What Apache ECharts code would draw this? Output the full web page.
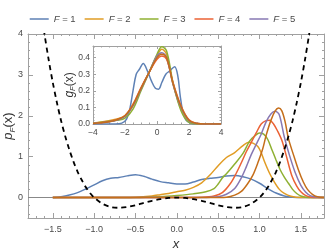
<!DOCTYPE html>
<html><head><meta charset="utf-8">
<script src="https://cdn.jsdelivr.net/npm/echarts@6/dist/echarts.min.js"></script>
<style>html,body{margin:0;padding:0;background:#fff}#c{width:325px;height:252px}</style>
</head><body><div id="c"></div>
<script>
// ---------- data ----------
const seriesNames = ['F = 1','F = 2','F = 3','F = 4','F = 5','F = 6'];
const legendNames = ['F = 1','F = 2','F = 3','F = 4','F = 5'];
const xTicksMain = ['\u22121.5','\u22121.0','\u22120.5','0.0','0.5','1.0','1.5'];
const yTicksMain = ['0','1','2','3','4'];
const xTicksInset = ['\u22124','\u22122','0','2','4'];
const yTicksInset = ['0.0','0.1','0.2','0.3','0.4'];

// main panel p_F(x)
const pF1 = [[-1.5,0],[-1.4,0.02],[-1.3,0.06],[-1.2,0.12],[-1.1,0.21],[-1.0,0.31],[-0.9,0.41],[-0.8,0.47],[-0.7,0.49],[-0.6,0.53],[-0.5,0.56],[-0.4,0.52],[-0.3,0.45],[-0.2,0.39],[-0.1,0.36],[0,0.33],[0.1,0.33],[0.2,0.38],[0.3,0.44],[0.4,0.47],[0.5,0.49],[0.6,0.53],[0.7,0.54],[0.8,0.51],[0.9,0.45],[1.0,0.35],[1.1,0.22],[1.2,0.11],[1.3,0.04],[1.4,0.01],[1.5,0],[1.78,0]];
const pF2 = [[-1.5,0],[-0.8,0],[-0.5,0.01],[-0.3,0.04],[-0.2,0.07],[-0.1,0.10],[0,0.14],[0.1,0.18],[0.2,0.25],[0.3,0.36],[0.4,0.55],[0.5,0.78],[0.6,0.98],[0.7,1.10],[0.8,1.27],[0.87,1.35],[0.92,1.33],[0.98,1.25],[1.02,1.10],[1.06,0.88],[1.12,0.60],[1.18,0.38],[1.24,0.20],[1.30,0.10],[1.38,0.03],[1.5,0],[1.78,0]];
const pF3 = [[-1.5,0],[-0.5,0],[-0.2,0.02],[0,0.05],[0.2,0.09],[0.35,0.14],[0.45,0.22],[0.5,0.33],[0.55,0.48],[0.6,0.58],[0.7,0.82],[0.8,1.08],[0.88,1.38],[0.95,1.52],[1.0,1.58],[1.05,1.55],[1.1,1.42],[1.15,1.17],[1.2,0.92],[1.25,0.68],[1.3,0.50],[1.35,0.35],[1.4,0.20],[1.45,0.10],[1.5,0.04],[1.6,0],[1.78,0]];
const pF4 = [[-1.5,0],[0,0],[0.3,0.01],[0.45,0.04],[0.55,0.12],[0.65,0.35],[0.72,0.60],[0.78,0.85],[0.84,1.12],[0.9,1.35],[0.96,1.58],[1.02,1.80],[1.08,1.88],[1.12,1.89],[1.17,1.80],[1.22,1.62],[1.27,1.40],[1.32,1.05],[1.39,0.54],[1.45,0.28],[1.5,0.14],[1.55,0.06],[1.62,0.01],[1.7,0],[1.78,0]];
const pF5 = [[-1.5,0],[0.3,0],[0.5,0.02],[0.6,0.08],[0.7,0.22],[0.78,0.48],[0.84,0.75],[0.9,1.05],[0.96,1.30],[1.02,1.55],[1.08,1.85],[1.14,2.05],[1.19,2.11],[1.24,2.02],[1.3,1.48],[1.36,1.05],[1.43,0.62],[1.5,0.30],[1.56,0.13],[1.62,0.04],[1.7,0.01],[1.78,0]];
const pF6 = [[-1.5,0],[0.4,0],[0.6,0.01],[0.7,0.06],[0.78,0.15],[0.85,0.32],[0.92,0.55],[0.98,0.85],[1.04,1.20],[1.08,1.52],[1.14,1.90],[1.19,2.12],[1.23,2.19],[1.27,2.12],[1.31,1.85],[1.35,1.44],[1.41,1.05],[1.47,0.68],[1.53,0.38],[1.58,0.20],[1.64,0.08],[1.7,0.02],[1.78,0]];

// potential (dashed)
const potX = [-1.64,-1.6,-1.55,-1.5,-1.45,-1.4,-1.35,-1.3,-1.25,-1.2,-1.15,-1.1,-1.05,-1.0,-0.9,-0.8,-0.7,-0.6,-0.5,-0.4,-0.3,-0.2,-0.1,0,0.1,0.2,0.3,0.4,0.5,0.6,0.7,0.8,0.9,1.0,1.05,1.1,1.15,1.2,1.25,1.3,1.35,1.4,1.45,1.5,1.55,1.6,1.64];
const potY = [4.54,3.99,3.37,2.81,2.32,1.88,1.50,1.17,0.88,0.63,0.43,0.25,0.11,0,-0.15,-0.23,-0.25,-0.23,-0.19,-0.13,-0.08,-0.04,-0.01,0,-0.01,-0.04,-0.08,-0.13,-0.19,-0.23,-0.25,-0.23,-0.15,0,0.11,0.25,0.43,0.63,0.88,1.17,1.50,1.88,2.32,2.81,3.37,3.99,4.54];

// inset g_F(x)
const gX = [-4,-3.5,-3,-2.5,-2,-1.5,-1,-0.5,0,0.3,0.6,1,1.5,2,2.5,3,4];
const gF1 = [[-4,0],[-2.6,0],[-2.2,0.005],[-1.9,0.03],[-1.7,0.09],[-1.5,0.2],[-1.3,0.3],[-1.1,0.33],[-0.86,0.365],[-0.6,0.32],[-0.35,0.26],[-0.1,0.215],[0.1,0.21],[0.3,0.25],[0.55,0.30],[0.8,0.32],[1.1,0.345],[1.3,0.29],[1.45,0.17],[1.6,0.08],[1.8,0.025],[2.1,0.005],[2.5,0],[4,0]];
const gF2 = [0.005,0.012,0.02,0.03,0.05,0.11,0.21,0.31,0.41,0.45,0.42,0.24,0.09,0.015,0.002,0,0];
const gF3 = [0.004,0.01,0.016,0.022,0.035,0.09,0.20,0.31,0.42,0.465,0.44,0.25,0.08,0.01,0.001,0,0];
const gF4 = [0.003,0.008,0.015,0.027,0.05,0.12,0.22,0.31,0.39,0.41,0.39,0.25,0.11,0.025,0.004,0,0];
const gF5 = [0.003,0.007,0.013,0.024,0.045,0.11,0.21,0.31,0.41,0.43,0.40,0.24,0.10,0.02,0.003,0,0];
const gF6 = [0.003,0.008,0.014,0.026,0.05,0.115,0.215,0.31,0.40,0.42,0.40,0.245,0.105,0.022,0.003,0,0];

// ---------- style ----------
const colors = ['#5E81B5','#E19C24','#8FB032','#EB6235','#8778B3','#C56E1A'];
const frameColor = '#a0a0a0';
const labelColor = '#4a4a4a';
const FONT = 'Liberation Sans, Arial, sans-serif';

function inList(list){ return v => { const s = list.find(t => Math.abs(parseFloat(t.replace('\u2212','-')) - v) < 1e-6); return s === undefined ? '' : s; }; }

function ax(grid, pos, min, max, step, len, labels, line){
  return { type:'value', gridIndex:grid, position:pos, min:min, max:max, minInterval:step, maxInterval:step,
    axisLine:{show:line, onZero:false, lineStyle:{color:frameColor, width:1}},
    axisTick:{show:true, inside:true, length:len, lineStyle:{color:frameColor, width:1}},
    axisLabel: labels ? {show:true, formatter:inList(labels), color:labelColor, fontSize:9, fontFamily:FONT, margin:7} : {show:false},
    splitLine:{show:false} };
}

const mainSeriesData = [pF1,pF2,pF3,pF4,pF5,pF6];
const insetSeriesData = [gF1, gX.map((x,i)=>[x,gF2[i]]), gX.map((x,i)=>[x,gF3[i]]), gX.map((x,i)=>[x,gF4[i]]), gX.map((x,i)=>[x,gF5[i]]), gX.map((x,i)=>[x,gF6[i]])];

const series = [];
mainSeriesData.forEach((d,i)=>{
  const s = { name:seriesNames[i], type:'line', xAxisIndex:0, yAxisIndex:0, data:d, smooth:0.3, symbol:'none',
    lineStyle:{color:colors[i], width:1.5}, itemStyle:{color:colors[i]}, z:3+i, animation:false };
  if(i===0){ s.markLine = { silent:true, symbol:'none', label:{show:false}, lineStyle:{color:'#888', width:1, type:'solid'}, data:[{yAxis:0}], z:2 }; }
  series.push(s);
});
series.push({ name:'V', type:'line', xAxisIndex:0, yAxisIndex:0, data:potX.map((x,i)=>[x,potY[i]]), smooth:0.3, symbol:'none',
  lineStyle:{color:'#000', width:1.8, type:[5,4]}, z:10, animation:false });
insetSeriesData.forEach((d,i)=>{
  series.push({ name:seriesNames[i], type:'line', xAxisIndex:4, yAxisIndex:4, data:d, smooth:0.35, symbol:'none',
    lineStyle:{color:colors[i], width:1.5}, itemStyle:{color:colors[i]}, z:20+i, animation:false });
});

const minorT = {show:true, splitNumber:4, length:1.5, lineStyle:{color:frameColor}};
const option = {
  animation:false,
  backgroundColor:'#fff',
  textStyle:{fontFamily:FONT},
  legend:{ data:legendNames, top:9, left:'center', icon:'rect', itemWidth:19, itemHeight:1.5, itemGap:9,
    formatter: n => '{i|F}' + n.slice(1),
    textStyle:{ color:labelColor, fontSize:9.5, fontFamily:FONT, rich:{ i:{fontStyle:'italic', fontSize:9.5, color:labelColor, fontFamily:FONT} } } },
  grid:[
    {left:28, top:34, width:296, height:184, show:false, containLabel:false, outerBoundsMode:'none'},
    {left:93, top:46, width:128, height:78, show:true, backgroundColor:'#fff', borderWidth:0, z:15, containLabel:false, outerBoundsMode:'none'}
  ],
  xAxis:[
    Object.assign(ax(0,'bottom',-1.8,1.78,0.5,5,xTicksMain,true), {name:'x', nameLocation:'middle', nameGap:20, nameMoveOverlap:false, nameTextStyle:{fontStyle:'italic', fontSize:13, color:'#333', fontFamily:FONT}}),
    ax(0,'bottom',-1.8,1.78,0.1,2,null,false),
    ax(0,'top',-1.8,1.78,0.5,5,null,true),
    ax(0,'top',-1.8,1.78,0.1,2,null,false),
    Object.assign(ax(1,'bottom',-4,4,2,3,xTicksInset,true), {minorTick:minorT, z:16}),
    Object.assign(ax(1,'top',-4,4,2,3,null,true), {minorTick:minorT, z:16})
  ],
  yAxis:[
    Object.assign(ax(0,'left',-0.5,4,1,5,yTicksMain,true), {name:'{i|p}{s|F}{n|(x)}', nameLocation:'middle', nameGap:11, nameRotate:90, nameMoveOverlap:false,
      nameTextStyle:{rich:{ i:{fontStyle:'italic', fontSize:13, color:'#333', fontFamily:FONT, lineHeight:17, verticalAlign:'middle'},
        s:{fontStyle:'italic', fontSize:8, color:'#333', fontFamily:FONT, lineHeight:17, verticalAlign:'bottom', padding:[5,0,0,0]},
        n:{fontSize:13, color:'#333', fontFamily:FONT, lineHeight:17, verticalAlign:'middle'} }}}),
    ax(0,'left',-0.5,4,0.2,2,null,false),
    ax(0,'right',-0.5,4,1,5,null,true),
    ax(0,'right',-0.5,4,0.2,2,null,false),
    Object.assign(ax(1,'left',0,0.47,0.1,3,yTicksInset,true), {minorTick:Object.assign({}, minorT, {splitNumber:5}), z:16,
      name:'{i|g}{s|F}{n|(x)}', nameLocation:'middle', nameGap:16, nameRotate:90, nameMoveOverlap:false,
      nameTextStyle:{rich:{ i:{fontStyle:'italic', fontSize:12, color:'#333', fontFamily:FONT, lineHeight:15, verticalAlign:'middle'},
        s:{fontStyle:'italic', fontSize:7.5, color:'#333', fontFamily:FONT, lineHeight:15, verticalAlign:'bottom', padding:[5,0,0,0]},
        n:{fontSize:12, color:'#333', fontFamily:FONT, lineHeight:15, verticalAlign:'middle'} }}}),
    Object.assign(ax(1,'right',0,0.47,0.1,3,null,true), {minorTick:Object.assign({}, minorT, {splitNumber:5}), z:16})
  ],
  series: series
};
option.xAxis[4].axisLabel.fontSize = 8.5; option.xAxis[4].axisLabel.margin = 4;
option.yAxis[4].axisLabel.fontSize = 8.5; option.yAxis[4].axisLabel.margin = 3;
option.yAxis[0].axisLabel.margin = 5;

const chart = echarts.init(document.getElementById('c'), null, {renderer:'canvas'});
chart.setOption(option);
</script>
</body></html>
